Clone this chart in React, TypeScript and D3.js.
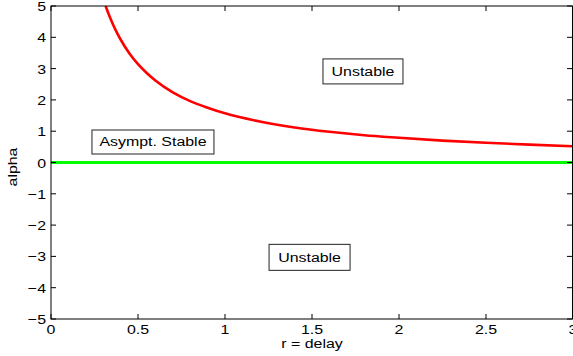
import React from "react";
import * as d3 from "d3";

const curveR = [0.314, 0.33, 0.35, 0.375, 0.4, 0.45, 0.5, 0.55, 0.6, 0.7, 0.8, 0.9, 1.0, 1.2, 1.4, 1.6, 1.8, 2.0, 2.25, 2.5, 2.75, 3.0];
const curveAlpha = [5.0, 4.76, 4.49, 4.19, 3.93, 3.49, 3.14, 2.86, 2.62, 2.24, 1.96, 1.75, 1.57, 1.31, 1.12, 0.98, 0.87, 0.79, 0.70, 0.63, 0.57, 0.52];
const zeroR = [0, 3];
const zeroAlpha = [0, 0];
const xTicks = [0, 0.5, 1, 1.5, 2, 2.5, 3];
const yTicks = [-5, -4, -3, -2, -1, 0, 1, 2, 3, 4, 5];
const regionLabels = ["Asympt. Stable", "Unstable", "Unstable"];
const regionR = [0.586, 1.793, 1.486];
const regionAlpha = [0.655, 2.91, -3.03];

export default function App() {
  const W = 573, H = 356;
  const left = 51, right = 573, top = 6, bottom = 319;
  const x = d3.scaleLinear().domain([0, 3]).range([left, right]);
  const y = d3.scaleLinear().domain([-5, 5]).range([bottom, top]);
  const line = d3.line<[number, number]>().x(d => x(d[0])).y(d => y(d[1])).curve(d3.curveMonotoneX);
  const redPts = curveR.map((r, i) => [r, curveAlpha[i]] as [number, number]);
  const greenPts = zeroR.map((r, i) => [r, zeroAlpha[i]] as [number, number]);
  const font = "'Liberation Sans', Arial, Helvetica, sans-serif";
  const boxW = [122, 80, 81];
  const boxH = [24, 25, 26];
  const tl = 5;
  const fs = 13.5;
  const sx = 1.18;
  const T = (px: number, py: number, s: string, anchor: string, key?: string) => (
    <text key={key} transform={`translate(${px},${py}) scale(${sx},1)`} fontSize={fs} textAnchor={anchor} fill="#000">{s}</text>
  );
  return (
    <svg width={W} height={H} style={{ position: "absolute", left: 0, top: 0, background: "#fff" }} fontFamily={font}>
      <defs>
        <clipPath id="plot"><rect x={left} y={top} width={right - left} height={bottom - top} /></clipPath>
      </defs>
      <rect x={0} y={0} width={W} height={H} fill="#fff" />
      <g clipPath="url(#plot)">
        <path d={line(greenPts) || ""} fill="none" stroke="#00ff00" strokeWidth={3} />
        <path d={line(redPts) || ""} fill="none" stroke="#ff0000" strokeWidth={2.6} />
      </g>
      <rect x={left} y={top} width={right - left - 0.5} height={bottom - top} fill="none" stroke="#000" strokeWidth={1} />
      {xTicks.map(t => (
        <g key={"x" + t}>
          <line x1={x(t)} x2={x(t)} y1={bottom} y2={bottom - tl} stroke="#000" />
          <line x1={x(t)} x2={x(t)} y1={top} y2={top + tl} stroke="#000" />
          {T(x(t), 334, String(t), "middle")}
        </g>
      ))}
      {yTicks.map(t => (
        <g key={"y" + t}>
          <line x1={left} x2={left + tl} y1={y(t)} y2={y(t)} stroke="#000" />
          <line x1={right - 1} x2={right - 1 - tl} y1={y(t)} y2={y(t)} stroke="#000" />
          {T(46, y(t) + 5, t < 0 ? "\u2212" + Math.abs(t) : String(t), "end")}
        </g>
      ))}
      {T(312, 348, "r = delay", "middle")}
      <text transform={`translate(16.5,167) rotate(-90) scale(${sx},1)`} fontSize={fs} textAnchor="middle" fill="#000">alpha</text>
      {regionLabels.map((lab, i) => {
        const cx = x(regionR[i]);
        const cy = y(regionAlpha[i]);
        return (
          <g key={"b" + i}>
            <rect x={cx - boxW[i] / 2} y={cy - boxH[i] / 2} width={boxW[i]} height={boxH[i]} fill="#fff" stroke="#222" strokeWidth={1} />
            {T(cx, cy + 4.5, lab, "middle")}
          </g>
        );
      })}
    </svg>
  );
}
